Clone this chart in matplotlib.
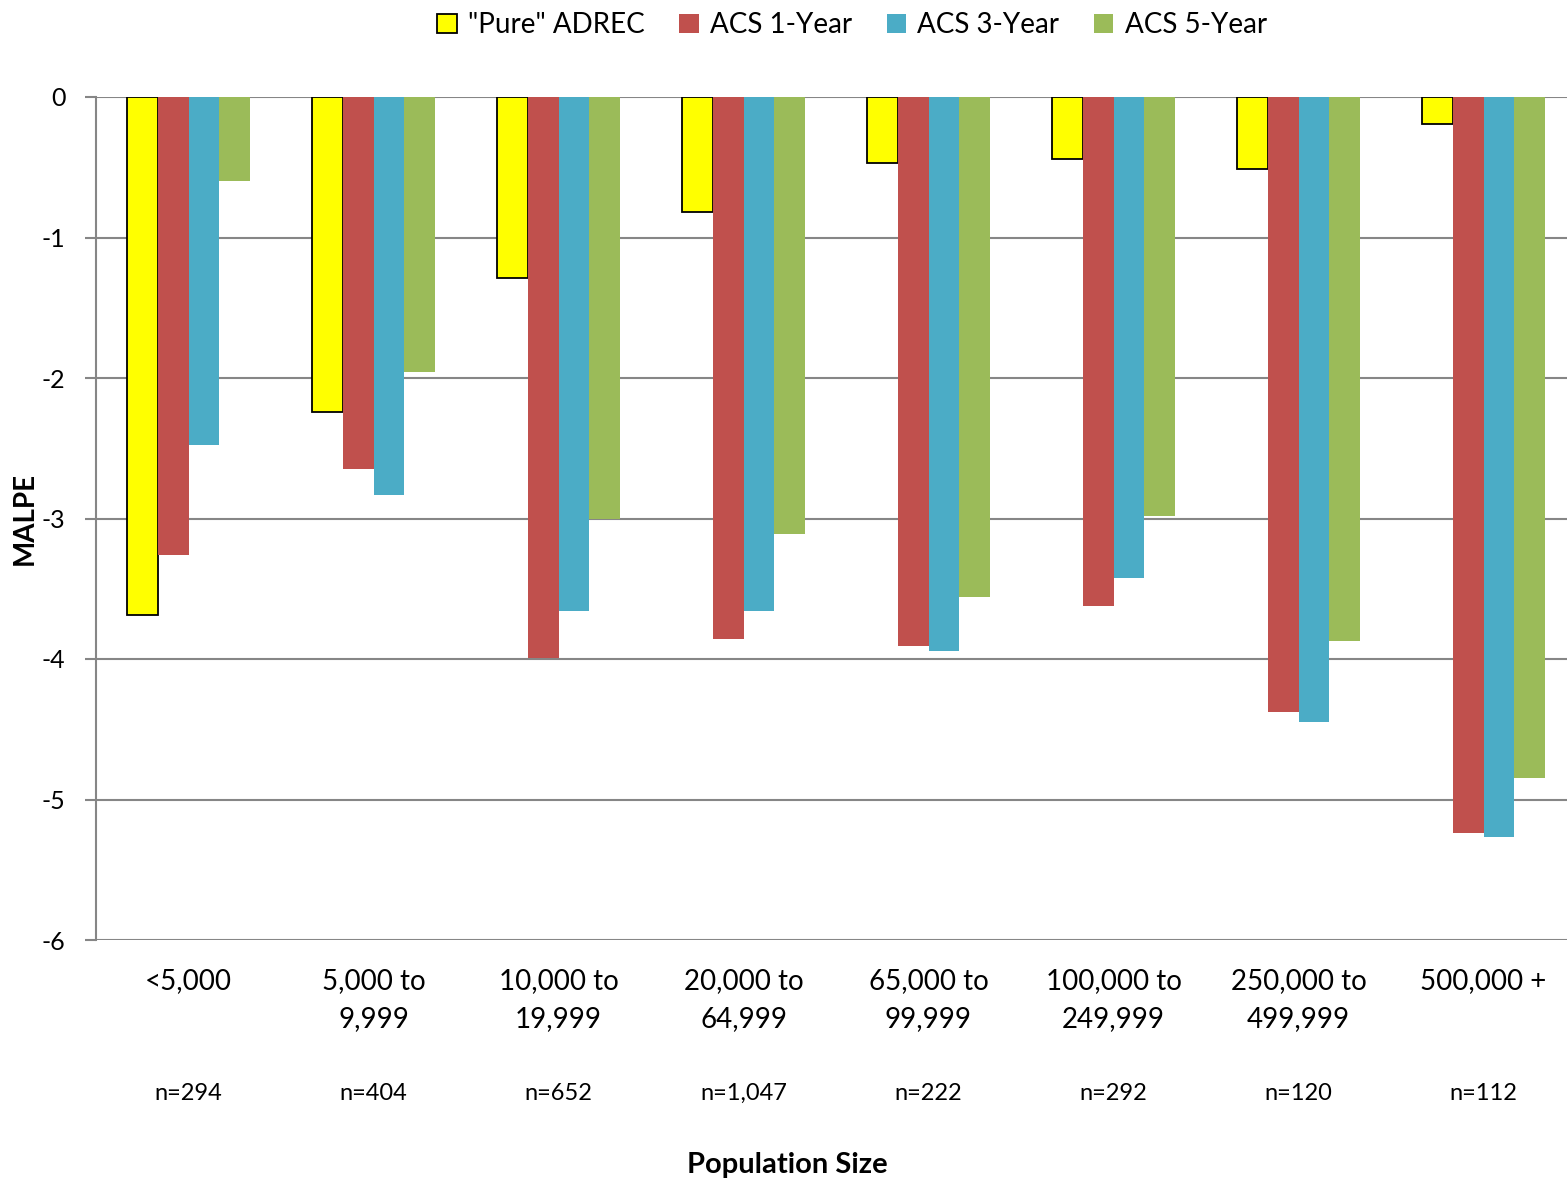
import matplotlib
matplotlib.use("Agg")
import matplotlib.pyplot as plt
import numpy as np

plt.rcParams['font.family'] = ['Lato', 'DejaVu Sans']

categories = ["<5,000", "5,000 to\n9,999", "10,000 to\n19,999", "20,000 to\n64,999",
              "65,000 to\n99,999", "100,000 to\n249,999", "250,000 to\n499,999", "500,000 +"]
sample_sizes = ["n=294", "n=404", "n=652", "n=1,047", "n=222", "n=292", "n=120", "n=112"]

pure_adrec = [-3.69, -2.24, -1.29, -0.82, -0.47, -0.44, -0.51, -0.19]
acs_1yr = [-3.26, -2.65, -3.99, -3.86, -3.91, -3.62, -4.38, -5.24]
acs_3yr = [-2.48, -2.83, -3.66, -3.66, -3.94, -3.42, -4.45, -5.27]
acs_5yr = [-0.60, -1.96, -3.00, -3.11, -3.56, -2.98, -3.87, -4.85]

series = [
    ('"Pure" ADREC', pure_adrec, "#FFFF00"),
    ("ACS 1-Year", acs_1yr, "#C0504D"),
    ("ACS 3-Year", acs_3yr, "#4BACC6"),
    ("ACS 5-Year", acs_5yr, "#9BBB59"),
]

W, H = 1567, 1182
fig = plt.figure(figsize=(W / 100, H / 100), dpi=100)
ax = fig.add_axes([96 / W, 1 - 940 / H, (W - 96) / W, (940 - 97) / H])

x = np.arange(len(categories))
bw = 0.167
grid_c = "#868686"

for i, (label, vals, color) in enumerate(series):
    offs = (i - 1.5) * bw
    if i == 0:
        ax.bar(x + offs, vals, bw, color=color, edgecolor="black", linewidth=1.3,
               label=label, zorder=3)
    else:
        ax.bar(x + offs, vals, bw, color=color, linewidth=0, label=label, zorder=3)

ax.set_ylim(-6, 0)
ax.set_xlim(-0.5, -0.5 + (W - 96) / 185)
ax.set_yticks(np.arange(-6, 1, 1))
ax.set_yticklabels([str(v) for v in range(-6, 1)], fontsize=18)
ax.yaxis.grid(True, color=grid_c, linewidth=1.5, zorder=0)
ax.set_axisbelow(True)
for s in ["top", "right", "bottom"]:
    ax.spines[s].set_visible(False)
ax.spines["left"].set_color(grid_c)
ax.spines["left"].set_linewidth(1.5)
ax.tick_params(axis="y", length=8, width=1.5, color=grid_c, pad=14)
ax.set_xticks(x)
ax.set_xticklabels(categories, fontsize=20, linespacing=1.6)
ax.tick_params(axis="x", length=0, pad=20)

# sample size under each category
n_y = 1 - 1093 / H
for xi, n in zip(x, sample_sizes):
    ax.annotate(n, xy=(xi, n_y), xycoords=("data", "figure fraction"),
                ha="center", va="center", fontsize=17, annotation_clip=False)

fig.text(25 / W, 1 - 518 / H, "MALPE", rotation=90, ha="center", va="center",
         fontsize=20, fontweight="bold")
fig.text(787 / W, 1 - 1165 / H, "Population Size", ha="center", va="center",
         fontsize=21, fontweight="bold")

fig.legend(loc="center", bbox_to_anchor=(852 / W, 1 - 25 / H), ncol=4, frameon=False,
           fontsize=20, handlelength=0.7, handleheight=0.7, handletextpad=0.4,
           columnspacing=1.25)

fig.savefig("out.png", dpi=100)
